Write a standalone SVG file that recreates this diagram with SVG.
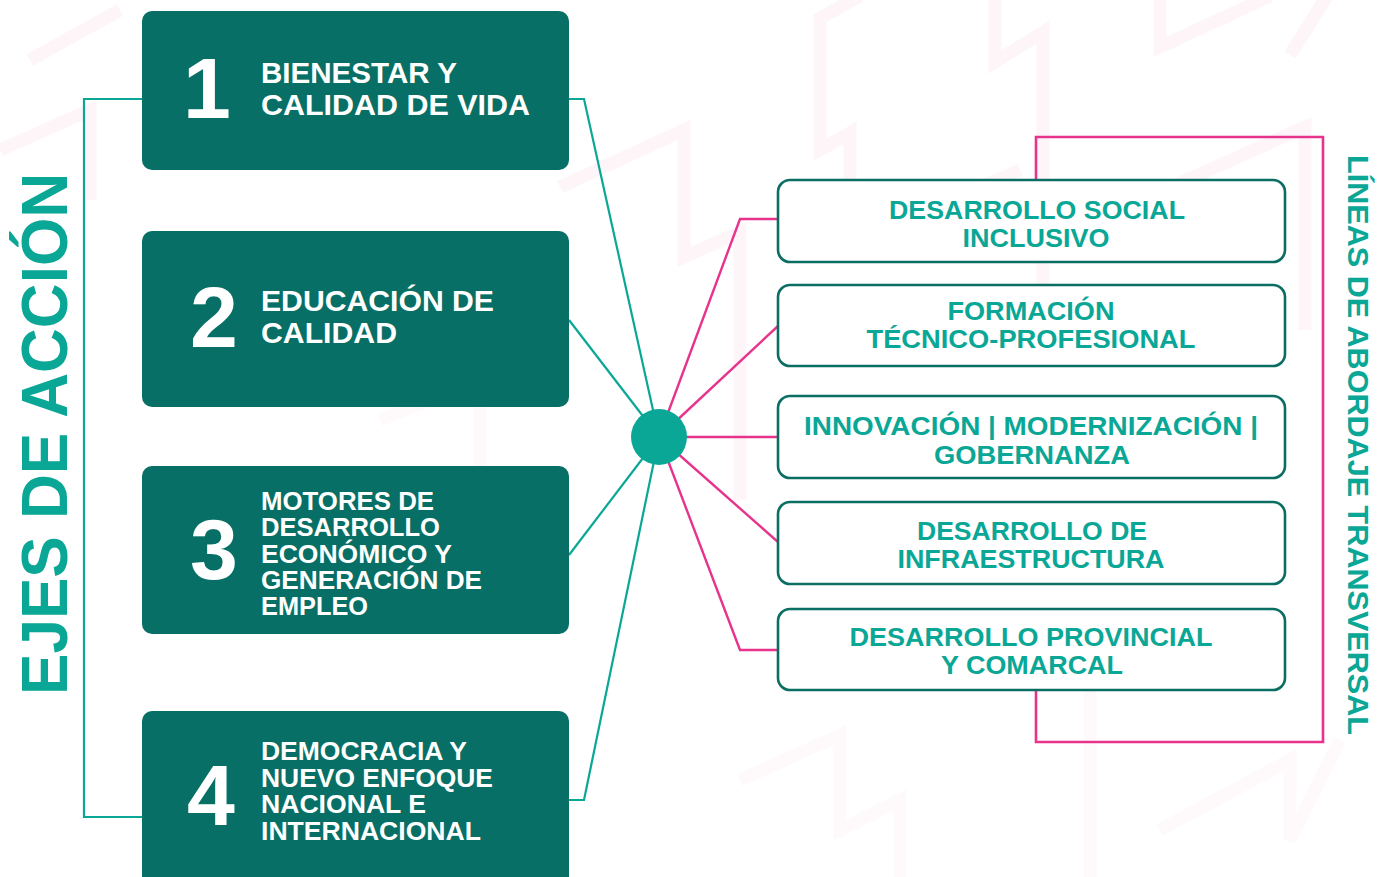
<svg xmlns="http://www.w3.org/2000/svg" width="1389" height="877" viewBox="0 0 1389 877">
<style>
  .bg { fill: none; stroke: #fef5f9; stroke-width: 13; stroke-linejoin: miter; }
  .bg2 { fill: none; stroke: #fefafc; stroke-width: 13; }
  .axis { fill: #076f65; }
  .num { font-family: "Liberation Sans", Arial, sans-serif; font-weight: bold; font-size: 86px; fill: #ffffff; text-anchor: middle; }
  .lbl { font-family: "Liberation Sans", Arial, sans-serif; font-weight: bold; fill: #ffffff; }
  .line { fill: #ffffff; stroke: #0b6e63; stroke-width: 2.6; }
  .ltxt { font-family: "Liberation Sans", Arial, sans-serif; font-weight: bold; font-size: 26px; fill: #0aa796; text-anchor: middle; }
  .title { font-family: "Liberation Sans", Arial, sans-serif; font-weight: bold; fill: #0aa796; }
  .teal { fill: none; stroke: #0aa796; stroke-width: 2.2; }
  .pink { fill: none; stroke: #e8338c; stroke-width: 2.4; }
</style>
<rect width="1389" height="877" fill="#ffffff"/>
<g id="background">
  <polyline class="bg" points="860,-4 820,18 820,150 850,133 850,245 1020,170"/>
  <polyline class="bg" points="995,-4 995,62 1043,32 1043,360"/>
  <polyline class="bg" points="1160,-4 1160,47 1270,-4"/>
  <polyline class="bg" points="1327,-4 1290,55"/>
  <polyline class="bg" points="560,187 684,130 684,257 740,232 740,500"/>
  <polyline class="bg" points="1142,200 1305,127 1305,330"/>
  <polyline class="bg" points="30,60 120,10"/>
  <polyline class="bg" points="0,150 90,110 90,200"/>
  <polyline class="bg2" points="740,780 840,735 840,830 900,800 900,877"/>
  <polyline class="bg2" points="1160,830 1290,760 1290,840 1340,740"/>
  <polyline class="bg2" points="1090,680 1090,877"/>
  <polyline class="bg2" points="380,420 480,380 480,470"/>
</g>
<g id="connectors">
  <polyline class="teal" points="142,99 84,99 84,817 142,817"/>
  <polyline class="teal" points="569,99 584,99 659,437"/>
  <polyline class="teal" points="569,320 659,437"/>
  <polyline class="teal" points="569,555 659,437"/>
  <polyline class="teal" points="569,800 584,800 659,437"/>
  <polyline class="pink" points="659,437 740,219 778,219"/>
  <polyline class="pink" points="659,437 778,326"/>
  <polyline class="pink" points="659,437 778,437"/>
  <polyline class="pink" points="659,437 778,542"/>
  <polyline class="pink" points="659,437 740,650 778,650"/>
  <path d="M1036,182 V137 H1323 V742 H1036 V688" fill="none" stroke="#e8338c" stroke-width="2.6"/>
</g>
<g id="hub"><circle cx="659" cy="437" r="28" fill="#0aa796"/></g>
<g id="title-ejes">
  <text class="title" font-size="64" transform="translate(67,695) rotate(-90)" textLength="522" lengthAdjust="spacingAndGlyphs">EJES DE ACCIÓN</text>
</g>
<g id="title-lineas">
  <text class="title" font-size="29" transform="translate(1348,155) rotate(90)" textLength="580" lengthAdjust="spacingAndGlyphs">LÍNEAS DE ABORDAJE TRANSVERSAL</text>
</g>
<g id="eje1">
  <rect class="axis" x="142" y="11" width="427" height="159" rx="10"/>
  <text class="num" x="207" y="118">1</text>
  <text class="lbl" font-size="30" x="261" y="83" textLength="196" lengthAdjust="spacingAndGlyphs">BIENESTAR Y</text>
  <text class="lbl" font-size="30" x="261" y="115" textLength="269" lengthAdjust="spacingAndGlyphs">CALIDAD DE VIDA</text>
</g>
<g id="eje2">
  <rect class="axis" x="142" y="231" width="427" height="176" rx="10"/>
  <text class="num" x="214" y="347">2</text>
  <text class="lbl" font-size="30" x="261" y="311" textLength="233" lengthAdjust="spacingAndGlyphs">EDUCACIÓN DE</text>
  <text class="lbl" font-size="30" x="261" y="343" textLength="136" lengthAdjust="spacingAndGlyphs">CALIDAD</text>
</g>
<g id="eje3">
  <rect class="axis" x="142" y="466" width="427" height="168" rx="10"/>
  <text class="num" x="214" y="579">3</text>
  <text class="lbl" font-size="25" x="261" y="510" textLength="173" lengthAdjust="spacingAndGlyphs">MOTORES DE</text>
  <text class="lbl" font-size="25" x="261" y="536" textLength="179" lengthAdjust="spacingAndGlyphs">DESARROLLO</text>
  <text class="lbl" font-size="25" x="261" y="563" textLength="191" lengthAdjust="spacingAndGlyphs">ECONÓMICO Y</text>
  <text class="lbl" font-size="25" x="261" y="589" textLength="221" lengthAdjust="spacingAndGlyphs">GENERACIÓN DE</text>
  <text class="lbl" font-size="25" x="261" y="615" textLength="107" lengthAdjust="spacingAndGlyphs">EMPLEO</text>
</g>
<g id="eje4">
  <rect class="axis" x="142" y="711" width="427" height="180" rx="10"/>
  <text class="num" x="211" y="825">4</text>
  <text class="lbl" font-size="25" x="261" y="760" textLength="206" lengthAdjust="spacingAndGlyphs">DEMOCRACIA Y</text>
  <text class="lbl" font-size="25" x="261" y="787" textLength="232" lengthAdjust="spacingAndGlyphs">NUEVO ENFOQUE</text>
  <text class="lbl" font-size="25" x="261" y="813" textLength="165" lengthAdjust="spacingAndGlyphs">NACIONAL E</text>
  <text class="lbl" font-size="25" x="261" y="840" textLength="220" lengthAdjust="spacingAndGlyphs">INTERNACIONAL</text>
</g>
<g id="linea1">
  <rect class="line" x="778" y="180" width="507" height="82" rx="12"/>
  <text class="ltxt" x="1037" y="219" textLength="296" lengthAdjust="spacingAndGlyphs">DESARROLLO SOCIAL</text>
  <text class="ltxt" x="1036" y="247" textLength="147" lengthAdjust="spacingAndGlyphs">INCLUSIVO</text>
</g>
<g id="linea2">
  <rect class="line" x="778" y="285" width="507" height="81" rx="12"/>
  <text class="ltxt" x="1031" y="320" textLength="167" lengthAdjust="spacingAndGlyphs">FORMACIÓN</text>
  <text class="ltxt" x="1031" y="348" textLength="329" lengthAdjust="spacingAndGlyphs">TÉCNICO-PROFESIONAL</text>
</g>
<g id="linea3">
  <rect class="line" x="778" y="396" width="507" height="82" rx="12"/>
  <text class="ltxt" font-size="24" x="1031" y="435" textLength="454" lengthAdjust="spacingAndGlyphs">INNOVACIÓN | MODERNIZACIÓN |</text>
  <text class="ltxt" font-size="25" x="1032" y="464" textLength="196" lengthAdjust="spacingAndGlyphs">GOBERNANZA</text>
</g>
<g id="linea4">
  <rect class="line" x="778" y="502" width="507" height="82" rx="12"/>
  <text class="ltxt" x="1032" y="540" textLength="230" lengthAdjust="spacingAndGlyphs">DESARROLLO DE</text>
  <text class="ltxt" x="1031" y="568" textLength="267" lengthAdjust="spacingAndGlyphs">INFRAESTRUCTURA</text>
</g>
<g id="linea5">
  <rect class="line" x="778" y="609" width="507" height="81" rx="12"/>
  <text class="ltxt" x="1031" y="646" textLength="363" lengthAdjust="spacingAndGlyphs">DESARROLLO PROVINCIAL</text>
  <text class="ltxt" x="1032" y="674" textLength="182" lengthAdjust="spacingAndGlyphs">Y COMARCAL</text>
</g>
</svg>
